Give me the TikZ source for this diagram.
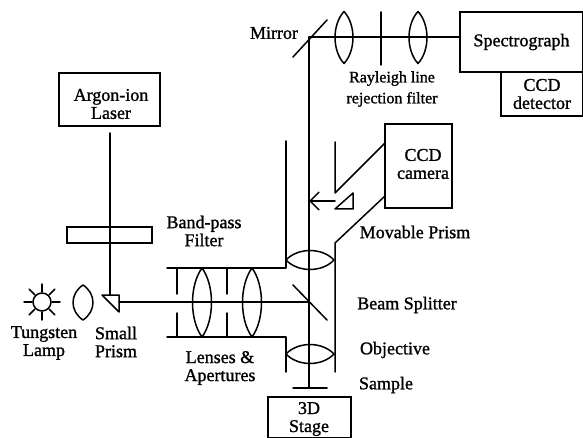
\documentclass[tikz,border=0pt]{standalone}
\usepackage{fontspec}
\setmainfont[FakeBold=1.2]{Liberation Serif}
\usetikzlibrary{arrows.meta}
\tikzset{
    optline/.style={line width=1.5pt, line join=round, line cap=round},
    opttext/.style={font=\fontsize{18}{18}\selectfont, align=center, inner sep=0pt},
    optbox/.style={draw, line width=1.5pt, inner sep=0pt, align=center, font=\fontsize{18}{18}\selectfont},
}
% lens along a beam: centre, half width, half height
\newcommand{\vlens}[3]{\draw[optline] (#1)++(0,-#3) .. controls +(#2*1.33,#3*0.5) and +(#2*1.33,-#3*0.5) .. ++(0,#3*2) .. controls +(-#2*1.33,-#3*0.5) and +(-#2*1.33,#3*0.5) .. ++(0,-#3*2);}
\newcommand{\hlens}[3]{\draw[optline] (#1)++(-#2,0) .. controls +(#2*0.5,-#3*1.33) and +(-#2*0.5,-#3*1.33) .. ++(#2*2,0) .. controls +(-#2*0.5,#3*1.33) and +(#2*0.5,#3*1.33) .. ++(-#2*2,0);}
\begin{document}
\begin{tikzpicture}[x=1pt, y=-1pt, >=stealth]
    \useasboundingbox (0,0) rectangle (583,438);
    % boxes
    \node[optbox, minimum width=101pt, minimum height=53pt] (laser) at (109.5,99.5) {};
    \node[optbox, minimum width=85pt, minimum height=16pt] (bandpass) at (109.5,235) {};
    \node[optbox, minimum width=123pt, minimum height=60pt] (spectro) at (521.5,42) {Spectrograph};
    \node[optbox, minimum width=82pt, minimum height=44pt] (detector) at (542,94) {CCD\\detector};
    \node[optbox, minimum width=67pt, minimum height=84pt] (camera) at (418.5,166) {};
    \node[optbox, minimum width=83pt, minimum height=41pt] (stage) at (309.5,417.5) {};
    % named points
    \coordinate (mirror) at (309,37);
    \coordinate (split) at (309,302);
    \coordinate (sample) at (309,388);
    \coordinate (prismtop) at (110,295);
    \coordinate (prismout) at (119,302);
    \coordinate (ltop) at (286,268);
    \coordinate (lbot) at (286,337);
    % beams
    \draw[optline] (110,133) -- (prismtop);
    \draw[optline] (prismout) -- (split);
    \draw[optline] (sample) -- (mirror) -- (spectro.west |- mirror);
    % mirror, beam splitter, sample
    \draw[optline] (293,57) -- (327,20);
    \draw[optline] (293,285) -- (327,320);
    \draw[optline] (293,388) -- (327,388);
    \draw[optline] (381,12) -- (381,65);
    % lenses
    \foreach \cx/\cy/\w/\h in {344/37.5/9/26, 418/37.5/9/26, 202/302.5/9.5/34.5, 252/302.5/9.5/34.5, 83/302.5/10/17.5}
        \vlens{\cx,\cy}{\w}{\h};
    \hlens{310,260}{24}{9.5}
    \hlens{310,354}{24}{9.5}
    % tube and apertures
    \draw[optline] (286,141) -- (ltop) -- (167,268);
    \draw[optline] (167,337) -- (lbot) -- (286,372);
    \draw[optline] (335,372) -- (335,243) -- (385,196);
    \draw[optline] (335,142) -- (335,193) -- (385,143);
    \foreach \ax in {177,227}
        \draw[optline] (\ax,268) -- (\ax,294) (\ax,313) -- (\ax,337);
    % prisms
    \draw[optline] (102,295) -- (119,295) -- (119,312) -- cycle;
    \draw[optline] (335,209) -- (353,209) -- (353,193) -- cycle;
    \draw[optline, -{Straight Barb[length=9pt,width=18pt]}] (335,201) -- (309,201);
    % lamp
    \draw[optline] (42,302) circle (9);
    \foreach \ang in {0,45,...,315}
        \draw[optline] (42,302) ++(\ang:10) -- ++(\ang:8);
    % labels
    \node[opttext] (llaser) at (111,104) {Argon-ion\\Laser};
    \node[opttext] (lcamera) at (423,164) {CCD\\camera};
    \node[opttext] (lstage) at (309,419) {3D\\Stage};
    \node[opttext] (lmirror) at (274,33) {Mirror};
    \node[opttext, font=\fontsize{16}{21}\selectfont] (lrayleigh) at (392,89) {Rayleigh line\\rejection filter};
    \node[opttext] (lmovable) at (415,232) {Movable Prism};
    \node[opttext] (lband) at (204,231) {Band-pass\\Filter};
    \node[opttext] (lsplit) at (407,305) {Beam Splitter};
    \node[opttext] (lobj) at (395,350) {Objective};
    \node[opttext] (lsample) at (386,385) {Sample};
    \node[opttext] (llamp) at (44,343) {Tungsten\\Lamp};
    \node[opttext] (lprism) at (116,342) {Small\\Prism};
    \node[opttext] (llens) at (220,368) {Lenses \&\\Apertures};
\end{tikzpicture}
\end{document}
